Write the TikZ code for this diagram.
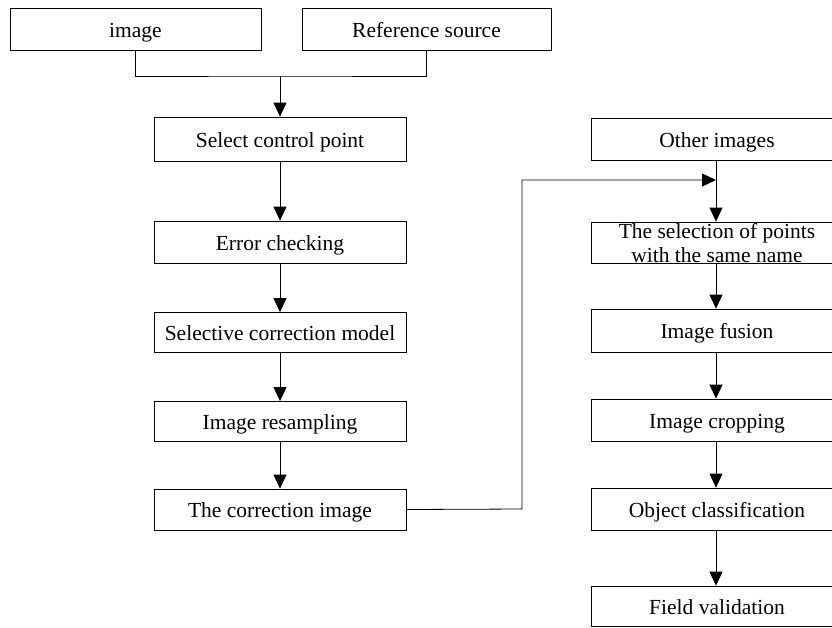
\documentclass[tikz,border=0pt]{standalone}
\usepackage{fontspec}
\setmainfont{Liberation Serif}
\usetikzlibrary{arrows.meta}
\begin{document}
\begin{tikzpicture}[x=1pt,y=-1pt,
  box/.style={draw, line width=0.8pt, inner sep=0pt, minimum width=252pt, minimum height=42pt,
    font=\fontsize{21.5}{24}\selectfont, align=center, text height=20pt, text depth=4pt},
  conn/.style={line width=0.8pt},
  arr/.style={conn, -{Triangle[width=13pt,length=14pt]}}]
\clip (0,0) rectangle (832,627);
\fill[white] (0,0) rectangle (832,627);
% left column
\node[box, minimum width=251pt] (img) at (135.5,29) {image};
\node[box, minimum width=249pt] (ref) at (426.5,29) {Reference source};
\node[box, minimum height=44pt] (sel) at (280,139) {Select control point};
\node[box] (err) at (280,242) {Error checking};
\node[box, minimum height=40pt] (mod) at (280,332.5) {Selective correction model};
\node[box, minimum height=40pt] (res) at (280,421.5) {Image resampling};
\node[box, minimum height=41pt] (cor) at (280,509.5) {The correction image};
% right column
\node[box] (oth) at (717,139) {Other images};
\node[box, minimum height=41pt] (pts) at (717,242.5) {};
\node[font=\fontsize{21.5}{24}\selectfont, align=center, inner sep=0pt] (ptstext) at (717,243) {The selection of points\\with the same name};
\node[box, minimum height=43pt] (fus) at (717,330.5) {Image fusion};
\node[box] (crop) at (717,420) {Image cropping};
\node[box] (obj) at (717,509) {Object classification};
\node[box, minimum height=40pt] (fld) at (717,606) {Field validation};
% connectors
\coordinate (j) at (280,76);
\draw[conn] (img.south) |- (j) -| (ref.south);
\draw[arr] (j) -- (sel.north);
\draw[arr] (sel) -- (err);
\draw[arr] (err) -- (mod);
\draw[arr] (mod) -- (res);
\draw[arr] (res) -- (cor);
\coordinate (m) at (716,180);
\coordinate (k) at (522,509);
\draw[arr] (cor.east) -- (k) |- (m);
\draw[arr] (oth.south -| m) -- (m |- pts.north);
\draw[arr] (pts.south -| m) -- (m |- fus.north);
\draw[arr] (fus.south -| m) -- (m |- crop.north);
\draw[arr] (crop.south -| m) -- (m |- obj.north);
\draw[arr] (obj.south -| m) -- (m |- fld.north);
\end{tikzpicture}
\end{document}
